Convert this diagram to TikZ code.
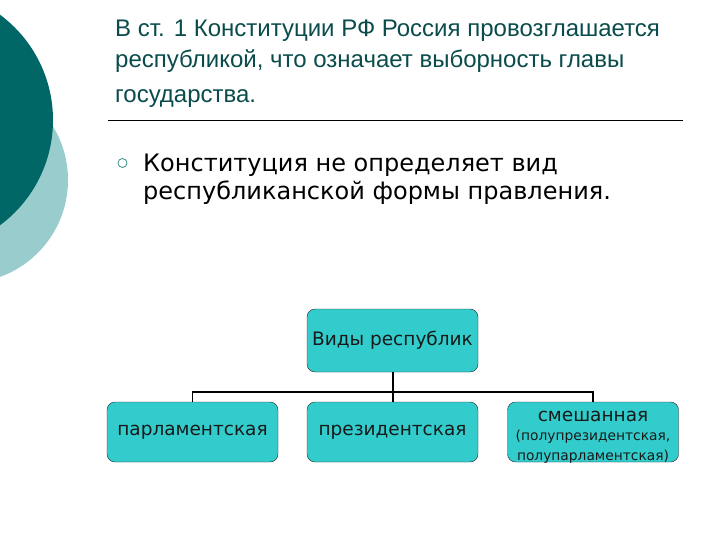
\documentclass[tikz,border=0pt]{standalone}
\usepackage{fontspec}
\setmainfont{Liberation Sans}
\newfontfamily\titlefont{Liberation Sans}
\newfontfamily\bodyfont{DejaVu Sans}
\definecolor{darkteal}{RGB}{0,102,102}
\definecolor{lightteal}{RGB}{153,204,204}
\definecolor{titlecol}{RGB}{10,75,75}
\definecolor{boxfill}{RGB}{51,204,204}
\definecolor{bulletcol}{RGB}{60,140,140}
\tikzset{
  vidbox/.style={draw=black!85,fill=boxfill,rounded corners=8pt,
    minimum width=171pt,minimum height=60pt,inner sep=0pt,align=center,
    text=black!90,font=\bodyfont\fontsize{18.5}{21}\selectfont},
  titleline/.style={anchor=base west,inner sep=0pt,text=titlecol,
    font=\titlefont\fontsize{24}{28}\selectfont},
  bodyline/.style={anchor=base west,inner sep=0pt,
    font=\bodyfont\fontsize{24}{28}\selectfont}
}
\begin{document}
\begin{tikzpicture}[x=1pt,y=1pt]
  \useasboundingbox (0,0) rectangle (720,-540);
  % circles on the left
  \begin{scope}
    \clip (0,0) rectangle (720,-540);
    \fill[lightteal] (-35,-180) circle(103);
    \fill[darkteal] (-78,-120) circle(131);
  \end{scope}
  % title
  \node[titleline] (title1) at (115,-37) {В ст. 1 Конституции РФ Россия провозглашается};
  \node[titleline] (title2) at (115,-68) {республикой, что означает выборность главы};
  \node[titleline] (title3) at (115,-103) {государства.};
  \draw[black,line width=1pt] (108,-120.5) -- (683,-120.5);
  % bullet
  \draw[bulletcol,line width=0.8pt] (122.5,-163) circle(4.5);
  \node[bodyline] (bul1) at (143,-172) {Конституция не определяет вид};
  \node[bodyline] (bul2) at (143,-200) {республиканской формы правления.};
  % boxes
  \node[vidbox,minimum height=63pt] (vidy) at (392.5,-340.5) {Виды республик};
  \node[vidbox] (parl) at (192.5,-432) {парламентская};
  \node[vidbox] (prez) at (392.5,-432) {президентская};
  \node[vidbox] (mixed) at (593,-432) {};
  \node[align=center,inner sep=0pt,text=black!90,font=\bodyfont\fontsize{18.5}{21}\selectfont]
    (mixedtxt) at ([yshift=-5pt]mixed.center) {смешанная\\[-2pt]
    {\fontsize{13.8}{16}\selectfont (полупрезидентская,}\\[-1pt]
    {\fontsize{13.8}{16}\selectfont полупарламентская)}};
  % connectors
  \draw[black,line width=2pt] (vidy.south) -- (prez.north);
  \draw[black,line width=1.5pt] (parl.north) -- ++(0,10) -| (mixed.north);
\end{tikzpicture}
\end{document}
